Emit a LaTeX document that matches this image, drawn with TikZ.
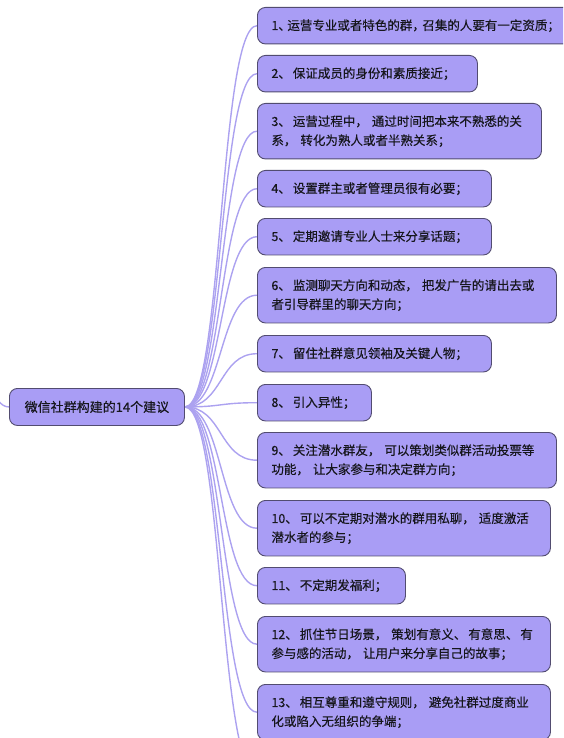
\documentclass[tikz,border=0pt]{standalone}
\usepackage{fontspec}
\usetikzlibrary{backgrounds}
\setmainfont{Noto Sans CJK SC}[FakeBold=0.35]
\newcommand\pd{、\kern2pt}
\newcommand\pc{，\kern4pt}
\definecolor{boxfill}{RGB}{169,157,245}
\definecolor{boxline}{RGB}{82,76,112}
\definecolor{linkc}{RGB}{172,162,240}
\definecolor{txt}{RGB}{22,22,28}
\tikzset{
  topic/.style={draw=boxline, line width=0.9pt, fill=boxfill, rounded corners=8pt,
    anchor=north west, inner xsep=14pt, inner ysep=0pt, align=left, text=txt,
    font=\fontsize{12.5}{19}\selectfont},
  roottopic/.style={draw=boxline, line width=0.9pt, fill=boxfill, rounded corners=8pt,
    anchor=north west, inner sep=0pt, align=center, text=txt,
    font=\fontsize{13}{16}\selectfont, minimum width=175pt, minimum height=37pt},
  one/.style={minimum height=36.5pt},
  two/.style={minimum height=55.5pt},
  link/.style={draw=linkc, line width=1.4pt}
}
\begin{document}
\begin{tikzpicture}[x=1pt,y=-1pt]
\useasboundingbox (0,0) rectangle (563,738);
\clip (0,0) rectangle (563,738);
\node[roottopic] (root) at (9,388) {微信社群构建的14个建议};
\coordinate (pin) at (-45,250);
\coordinate (c14) at (257,775);
\node[topic,one,text width=290pt] (n1) at (257,7) {1、\kern-3.5pt 运营专业或者特色的群，\kern-2.5pt 召集的人要有一定资质；};
\node[topic,one,text width=192pt] (n2) at (257,55) {2\pd 保证成员的身份和素质接近；};
\node[topic,two,text width=256pt] (n3) at (257,103) {3\pd 运营过程中\pc 通过时间把本来不熟悉的关\\系\pc 转化为熟人或者半熟关系；};
\node[topic,one,text width=206pt] (n4) at (257,170) {4\pd 设置群主或者管理员很有必要；};
\node[topic,one,text width=206pt] (n5) at (257,218) {5\pd 定期邀请专业人士来分享话题；};
\node[topic,two,text width=271pt] (n6) at (257,267) {6\pd 监测聊天方向和动态\pc 把发广告的请出去或\\者引导群里的聊天方向；};
\node[topic,one,text width=206pt] (n7) at (257,335) {7\pd 留住社群意见领袖及关键人物；};
\node[topic,one,text width=86pt] (n8) at (257,384) {8\pd 引入异性；};
\node[topic,two,text width=271pt] (n9) at (257,432) {9\pd 关注潜水群友\pc 可以策划类似群活动投票等\\功能\pc 让大家参与和决定群方向；};
\node[topic,two,text width=265pt] (n10) at (257,500) {10\pd 可以不定期对潜水的群用私聊\pc 适度激活\\潜水者的参与；};
\node[topic,one,text width=120pt] (n11) at (257,567) {11\pd 不定期发福利；};
\node[topic,two,text width=265pt] (n12) at (257,616) {12\pd 抓住节日场景\pc 策划有意义\pd 有意思\pd 有\\参与感的活动\pc 让用户来分享自己的故事；};
\node[topic,two,text width=265pt] (n13) at (257,684) {13\pd 相互尊重和遵守规则\pc 避免社群过度商业\\化或陷入无组织的争端；};
\begin{scope}[on background layer]
\foreach \n in {n1,n2,n3,n4,n5,n6,n7,n8,n9,n10,n11,n12,n13}{
  \draw[link] (root.east) .. controls +(38,0) and +(-38,0) .. (\n.west);
}
\draw[link] (root.east) .. controls +(38,0) and +(-38,0) .. (c14);
\draw[link] (pin) .. controls +(35,0) and +(-35,0) .. (root.west);
\end{scope}
\end{tikzpicture}
\end{document}
